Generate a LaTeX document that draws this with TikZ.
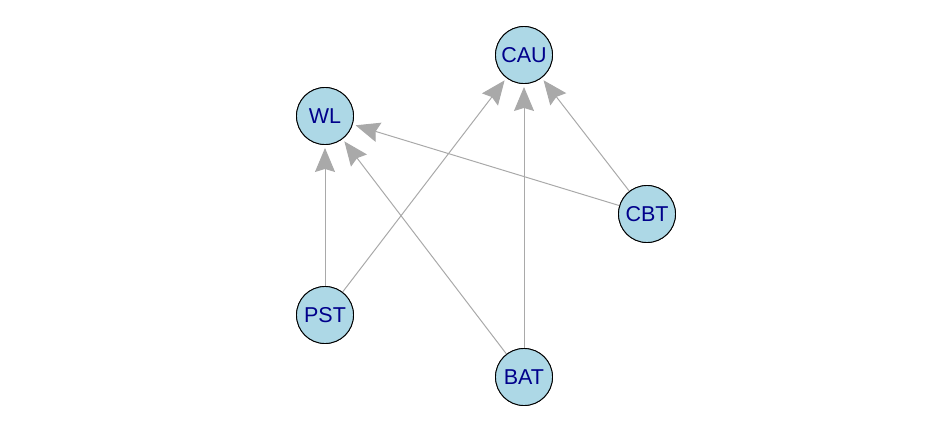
\documentclass[tikz,border=0pt]{standalone}
\usepackage{fontspec}
\setmainfont{Liberation Sans}
\usetikzlibrary{arrows.meta}
\definecolor{nodefill}{RGB}{173,216,230}
\definecolor{labelblue}{RGB}{0,0,139}
\definecolor{edgegray}{RGB}{169,169,169}
\tikzset{
  vert/.style={circle,draw=black,line width=0.9pt,fill=nodefill,minimum size=57pt,inner sep=0pt,
    text=labelblue,font=\fontsize{21.5}{21.5}\selectfont},
  conn/.style={draw=edgegray,line width=1pt,
    -{Stealth[length=24pt,width=20pt,inset=3pt]},shorten >=3pt}
}
\begin{document}
\begin{tikzpicture}[x=1pt,y=-1pt]
\useasboundingbox (0,0) rectangle (941,432);
\node[vert] (CAU) at (524,55) {CAU};
\node[vert] (WL) at (325,116) {WL};
\node[vert] (CBT) at (647,214) {CBT};
\node[vert] (PST) at (325,315) {PST};
\node[vert] (BAT) at (524,377) {BAT};
\draw[conn] (PST) -- (WL);
\draw[conn] (PST) -- (CAU);
\draw[conn] (BAT) -- (WL);
\draw[conn] (BAT) -- (CAU);
\draw[conn] (CBT) -- (CAU);
\draw[conn] (CBT) -- (WL);
\node[vert] at (CAU) {CAU};
\node[vert] at (WL) {WL};
\node[vert] at (CBT) {CBT};
\node[vert] at (PST) {PST};
\node[vert] at (BAT) {BAT};
\end{tikzpicture}
\end{document}
